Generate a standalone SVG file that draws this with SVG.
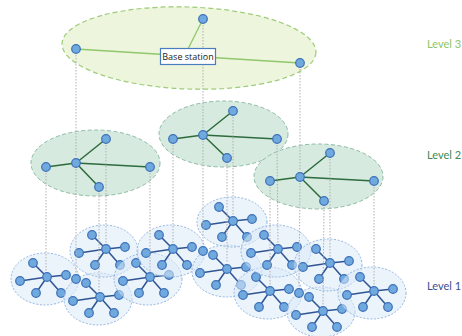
<svg xmlns="http://www.w3.org/2000/svg" width="462" height="336" viewBox="0 0 462 336">
<style>
.bg{fill:#ffffff}
.e1{fill:#dae9f7;fill-opacity:0.55;stroke:#93b5e1;stroke-width:1;stroke-dasharray:2 1.6}
.e2{fill:#d6eadf;stroke:#8dbba4;stroke-width:1;stroke-dasharray:4 2.5}
.e3{fill:#eef5dd;stroke:#9dcc78;stroke-width:1.2;stroke-dasharray:5 3}
.l1{stroke:#2f5594;stroke-width:1.5;fill:none}
.l2{stroke:#2d6b3c;stroke-width:1.5;fill:none}
.l3{stroke:#8fc86a;stroke-width:1.3;fill:none}
.n{fill:#70a9de;stroke:#3c70b8;stroke-width:1.2}
.dot{stroke:#b0b0b0;stroke-width:1;stroke-dasharray:1.5 1.5;fill:none}
.box{fill:#ffffff;stroke:#4a7dbd;stroke-width:1.2}
.t{font-family:Lato,"Open Sans","Liberation Sans",sans-serif;font-size:11px}
.bs{font-family:"Open Sans","Liberation Sans",sans-serif;font-size:9px;fill:#222222}
</style>
<rect class="bg" x="0" y="0" width="462" height="336"/>

<g id="level1">
<g id="clA"><ellipse class="e1" cx="45" cy="279" rx="34" ry="26"/>
<path class="l1" d="M47 277L33 263M47 277L20 281M47 277L36 293M47 277L61 293M47 277L66 275"/>
<circle class="n" cx="47" cy="277" r="4.3"/><circle class="n" cx="33" cy="263" r="4.3"/><circle class="n" cx="20" cy="281" r="4.3"/><circle class="n" cx="36" cy="293" r="4.3"/><circle class="n" cx="61" cy="293" r="4.3"/><circle class="n" cx="66" cy="275" r="4.3"/></g>

<g id="clB"><ellipse class="e1" cx="98" cy="299" rx="34" ry="26"/>
<path class="l1" d="M100 297L86 283M100 297L73 301M100 297L89 313M100 297L114 313M100 297L119 295"/>
<circle class="n" cx="100" cy="297" r="4.3"/><circle class="n" cx="86" cy="283" r="4.3"/><circle class="n" cx="73" cy="301" r="4.3"/><circle class="n" cx="89" cy="313" r="4.3"/><circle class="n" cx="114" cy="313" r="4.3"/><circle class="n" cx="119" cy="295" r="4.3"/><circle class="n" cx="76" cy="279" r="4.3"/></g>

<g id="clC"><ellipse class="e1" cx="104" cy="251" rx="34" ry="26"/>
<path class="l1" d="M106 249L92 235M106 249L79 253M106 249L95 265M106 249L120 265M106 249L125 247"/>
<circle class="n" cx="106" cy="249" r="4.3"/><circle class="n" cx="92" cy="235" r="4.3"/><circle class="n" cx="79" cy="253" r="4.3"/><circle class="n" cx="95" cy="265" r="4.3"/><circle class="n" cx="120" cy="265" r="4.3"/><circle class="n" cx="125" cy="247" r="4.3"/></g>

<g id="clD"><ellipse class="e1" cx="148" cy="279" rx="34" ry="26"/>
<path class="l1" d="M150 277L136 263M150 277L123 281M150 277L139 293M150 277L164 293M150 277L169 275"/>
<circle class="n" cx="150" cy="277" r="4.3"/><circle class="n" cx="136" cy="263" r="4.3"/><circle class="n" cx="123" cy="281" r="4.3"/><circle class="n" cx="139" cy="293" r="4.3"/><circle class="n" cx="164" cy="293" r="4.3"/><circle class="n" cx="169" cy="275" r="4.3"/></g>

<g id="clE"><ellipse class="e1" cx="171" cy="251" rx="34" ry="26"/>
<path class="l1" d="M173 249L159 235M173 249L146 253M173 249L162 265M173 249L187 265M173 249L192 247"/>
<circle class="n" cx="173" cy="249" r="4.3"/><circle class="n" cx="159" cy="235" r="4.3"/><circle class="n" cx="146" cy="253" r="4.3"/><circle class="n" cx="162" cy="265" r="4.3"/><circle class="n" cx="187" cy="265" r="4.3"/><circle class="n" cx="192" cy="247" r="4.3"/></g>

<g id="clG"><ellipse class="e1" cx="227" cy="271" rx="35" ry="26"/>
<path class="l1" d="M227 269L213 255M227 269L200 273M227 269L216 285M227 269L241 285M227 269L246 267"/>
<circle class="n" cx="227" cy="269" r="4.3"/><circle class="n" cx="213" cy="255" r="4.3"/><circle class="n" cx="200" cy="273" r="4.3"/><circle class="n" cx="216" cy="285" r="4.3"/><circle class="n" cx="241" cy="285" r="4.3"/><circle class="n" cx="246" cy="267" r="4.3"/><circle class="n" cx="203" cy="251" r="4.3"/></g>

<g id="clF"><ellipse class="e1" cx="232" cy="222" rx="35" ry="25"/>
<path class="l1" d="M233 221L219 207M233 221L206 225M233 221L222 237M233 221L247 237M233 221L252 219"/>
<circle class="n" cx="233" cy="221" r="4.3"/><circle class="n" cx="219" cy="207" r="4.3"/><circle class="n" cx="206" cy="225" r="4.3"/><circle class="n" cx="222" cy="237" r="4.3"/><circle class="n" cx="247" cy="237" r="4.3"/><circle class="n" cx="252" cy="219" r="4.3"/></g>

<g id="clJ"><ellipse class="e1" cx="268" cy="293" rx="34" ry="26"/>
<path class="l1" d="M270 291L256 277M270 291L243 295M270 291L259 307M270 291L284 307M270 291L289 289"/>
<circle class="n" cx="270" cy="291" r="4.3"/><circle class="n" cx="256" cy="277" r="4.3"/><circle class="n" cx="243" cy="295" r="4.3"/><circle class="n" cx="259" cy="307" r="4.3"/><circle class="n" cx="284" cy="307" r="4.3"/><circle class="n" cx="289" cy="289" r="4.3"/></g>

<g id="clH"><ellipse class="e1" cx="276" cy="251" rx="35" ry="26"/>
<path class="l1" d="M278 249L264 235M278 249L251 253M278 249L267 265M278 249L292 265M278 249L297 247"/>
<circle class="n" cx="278" cy="249" r="4.3"/><circle class="n" cx="264" cy="235" r="4.3"/><circle class="n" cx="251" cy="253" r="4.3"/><circle class="n" cx="267" cy="265" r="4.3"/><circle class="n" cx="292" cy="265" r="4.3"/><circle class="n" cx="297" cy="247" r="4.3"/></g>

<g id="clK"><ellipse class="e1" cx="321" cy="312" rx="34" ry="25"/>
<path class="l1" d="M323 311L309 297M323 311L296 315M323 311L312 327M323 311L337 327M323 311L342 309"/>
<circle class="n" cx="323" cy="311" r="4.3"/><circle class="n" cx="309" cy="297" r="4.3"/><circle class="n" cx="296" cy="315" r="4.3"/><circle class="n" cx="312" cy="327" r="4.3"/><circle class="n" cx="337" cy="327" r="4.3"/><circle class="n" cx="342" cy="309" r="4.3"/><circle class="n" cx="299" cy="293" r="4.3"/></g>

<g id="clI"><ellipse class="e1" cx="328" cy="265" rx="34" ry="26"/>
<path class="l1" d="M330 263L316 249M330 263L303 267M330 263L319 279M330 263L344 279M330 263L349 261"/>
<circle class="n" cx="330" cy="263" r="4.3"/><circle class="n" cx="316" cy="249" r="4.3"/><circle class="n" cx="303" cy="267" r="4.3"/><circle class="n" cx="319" cy="279" r="4.3"/><circle class="n" cx="344" cy="279" r="4.3"/><circle class="n" cx="349" cy="261" r="4.3"/></g>

<g id="clL"><ellipse class="e1" cx="372" cy="293" rx="34" ry="26"/>
<path class="l1" d="M374 291L360 277M374 291L347 295M374 291L363 307M374 291L388 307M374 291L393 289"/>
<circle class="n" cx="374" cy="291" r="4.3"/><circle class="n" cx="360" cy="277" r="4.3"/><circle class="n" cx="347" cy="295" r="4.3"/><circle class="n" cx="363" cy="307" r="4.3"/><circle class="n" cx="388" cy="307" r="4.3"/><circle class="n" cx="393" cy="289" r="4.3"/></g>
</g>

<g id="level2">
<g id="l2a"><ellipse class="e2" cx="95.5" cy="163" rx="64.5" ry="33"/>
<path class="l2" d="M76 163L46 167M76 163L106 139M76 163L99 187M76 163L150 167"/>
<circle class="n" cx="76" cy="163" r="4.3"/><circle class="n" cx="46" cy="167" r="4.3"/><circle class="n" cx="106" cy="139" r="4.3"/><circle class="n" cx="99" cy="187" r="4.3"/><circle class="n" cx="150" cy="167" r="4.3"/></g>
<g id="l2b"><ellipse class="e2" cx="223.5" cy="134" rx="64.5" ry="33"/>
<path class="l2" d="M203 135L173 139M203 135L233 111M203 135L227 158M203 135L277 139"/>
<circle class="n" cx="203" cy="135" r="4.3"/><circle class="n" cx="173" cy="139" r="4.3"/><circle class="n" cx="233" cy="111" r="4.3"/><circle class="n" cx="227" cy="158" r="4.3"/><circle class="n" cx="277" cy="139" r="4.3"/></g>
<g id="l2c"><ellipse class="e2" cx="318.5" cy="176.5" rx="64.5" ry="32.5"/>
<path class="l2" d="M300 177L270 181M300 177L330 153M300 177L324 201M300 177L374 181"/>
<circle class="n" cx="300" cy="177" r="4.3"/><circle class="n" cx="270" cy="181" r="4.3"/><circle class="n" cx="330" cy="153" r="4.3"/><circle class="n" cx="324" cy="201" r="4.3"/><circle class="n" cx="374" cy="181" r="4.3"/></g>
</g>

<g id="level3">
<ellipse class="e3" cx="189" cy="48" rx="127" ry="41" transform="rotate(2 189 48)"/>
<path class="l3" d="M76 49L300 63M203 19L188 49"/>
<circle class="n" cx="203" cy="19" r="4.3"/><circle class="n" cx="76" cy="49" r="4.3"/><circle class="n" cx="300" cy="63" r="4.3"/>
</g>

<g id="connectors">
<path class="dot" d="M76 55V157M76 169V273M203 25V129M203 141V245M300 69V171M300 183L299 287M46 173V271M106 145V243M99 193V291M150 173V271M173 145V243M233 117V215M227 164V263M277 145L278 243M270 187V285M330 159V257M324 207L323 305M374 187V285"/>
</g>

<g id="basestation">
<rect class="box" x="160.5" y="48.5" width="55" height="16"/>
<text class="bs" x="188" y="60" text-anchor="middle">Base station</text>
</g>

<g id="labels">
<text class="t" x="427" y="48" fill="#8cc665">Level 3</text>
<text class="t" x="427" y="159" fill="#3f8a55">Level 2</text>
<text class="t" x="427" y="290" fill="#3a4f8f">Level 1</text>
</g>
</svg>
